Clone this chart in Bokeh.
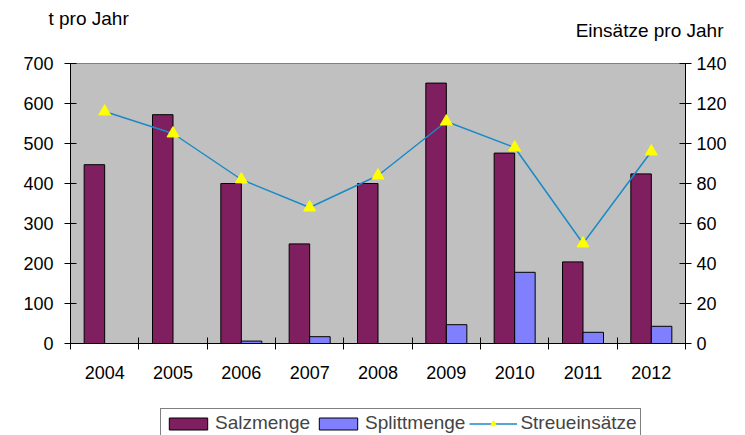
from bokeh.plotting import figure
from bokeh.models import Range1d, LinearAxis, FixedTicker, Legend, LegendItem, Label
from bokeh.layouts import column
from bokeh.embed import file_html
from bokeh.resources import INLINE

years = ["2004", "2005", "2006", "2007", "2008", "2009", "2010", "2011", "2012"]
salzmenge = [447, 572, 400, 249, 400, 651, 476, 204, 424]
splittmenge = [0, 0, 6, 17, 0, 47, 178, 28, 43]
streueinsaetze = [116, 105, 82, 68, 84, 111, 98, 50, 96]
left_ticks = [0, 100, 200, 300, 400, 500, 600, 700]
right_ticks = [0, 20, 40, 60, 80, 100, 120, 140]
series_names = ["Salzmenge", "Splittmenge", "Streueinsätze"]
left_title = "t pro Jahr"
right_title = "Einsätze pro Jahr"

FONT = "Liberation Sans"
FS = "18px"
TFS = "19px"
LFS = "19px"
bar_w = 0.3
C_SALZ = "#7F1F5F"
C_SPLITT = "#8080FF"
C_LINE = "#1A8AC6"
C_TRI = "#FFFF00"

xc = [i + 0.5 for i in range(len(years))]
x_salz = [v - bar_w / 2 for v in xc]
x_splitt = [v + bar_w / 2 for v in xc]

# ---- top strip with the two axis titles ----
TOP_H = 45
LEG_H = 35
pt = figure(width=745, height=TOP_H, output_backend="svg", toolbar_location=None, title=None,
            x_range=Range1d(0, 745), y_range=Range1d(TOP_H, 0),
            x_axis_type=None, y_axis_type=None, frame_align=False,
            min_border=0, min_border_left=0, min_border_right=0, min_border_top=0,
            min_border_bottom=0)
pt.outline_line_color = None
pt.xgrid.visible = False
pt.ygrid.visible = False
pt.add_layout(Label(x=48, y=18, text=left_title, text_font=FONT, text_font_size=TFS,
                    text_align="left", text_baseline="alphabetic", text_color="black"))
pt.add_layout(Label(x=723, y=30, text=right_title, text_font=FONT, text_font_size=TFS,
                    text_align="right", text_baseline="alphabetic", text_color="black"))

# ---- main chart ----
MAIN_H = 435 - TOP_H - LEG_H
p = figure(width=745, height=MAIN_H, output_backend="svg", toolbar_location=None, title=None,
           x_range=Range1d(0, len(years)), y_range=Range1d(left_ticks[0], left_ticks[-1]),
           min_border_left=70, min_border_right=60, min_border_top=63 - TOP_H,
           min_border_bottom=MAIN_H - (343 - TOP_H))
p.extra_y_ranges = {"right": Range1d(right_ticks[0], right_ticks[-1])}

p.background_fill_color = "#C0C0C0"
p.border_fill_color = "white"
p.outline_line_color = "#808080"
p.xgrid.visible = False
p.ygrid.visible = False

p.vbar(x=x_salz, top=salzmenge, bottom=0, width=bar_w,
       fill_color=C_SALZ, line_color="black", line_width=1)
p.vbar(x=x_splitt, top=splittmenge, bottom=0, width=bar_w,
       fill_color=C_SPLITT, line_color="black", line_width=1)
p.line(xc, streueinsaetze, y_range_name="right", line_color=C_LINE, line_width=1.5)
p.scatter(xc, streueinsaetze, y_range_name="right", marker="triangle", size=12,
          fill_color=C_TRI, line_color=C_TRI)

xa = p.xaxis[0]
xa.ticker = FixedTicker(ticks=xc, minor_ticks=list(range(len(years) + 1)))
xa.major_label_overrides = {c: y for c, y in zip(xc, years)}
xa.major_tick_in = 0
xa.major_tick_out = 0
xa.minor_tick_in = 6
xa.minor_tick_out = 6
xa.minor_tick_line_color = "black"
xa.axis_line_color = "black"
xa.major_label_standoff = 16

ya = p.yaxis[0]
ya.ticker = FixedTicker(ticks=left_ticks, minor_ticks=[])
ya.major_tick_in = 6
ya.major_tick_out = 6
ya.axis_line_color = "black"
ya.major_tick_line_color = "black"
ya.major_label_standoff = 11

ra = LinearAxis(y_range_name="right", ticker=FixedTicker(ticks=right_ticks, minor_ticks=[]))
ra.major_tick_in = 6
ra.major_tick_out = 6
ra.axis_line_color = "black"
ra.major_tick_line_color = "black"
ra.major_label_standoff = 5
p.add_layout(ra, "right")

for ax in (xa, ya, ra):
    ax.major_label_text_font = FONT
    ax.major_label_text_font_size = FS
    ax.major_label_text_color = "black"

# ---- legend strip below the chart (its glyphs lie far outside that strip's view) ----
pl = figure(width=745, height=LEG_H, output_backend="svg", toolbar_location=None, title=None,
            x_range=Range1d(100, 101), y_range=Range1d(1000, 1001),
            x_axis_type=None, y_axis_type=None,
            min_border=0, min_border_left=0, min_border_right=0, min_border_top=0,
            min_border_bottom=0)
pl.outline_line_color = None
pl.background_fill_color = None
pl.xgrid.visible = False
pl.ygrid.visible = False
l_salz = pl.vbar(x=x_salz, top=salzmenge, bottom=0, width=bar_w,
                 fill_color=C_SALZ, line_color="black", line_width=1)
l_splitt = pl.vbar(x=x_splitt, top=splittmenge, bottom=0, width=bar_w,
                   fill_color=C_SPLITT, line_color="black", line_width=1)
l_line = pl.line(xc, streueinsaetze, line_color=C_LINE, line_width=1.5)
l_tri = pl.scatter(xc, streueinsaetze, marker="triangle", size=12,
                   fill_color=C_TRI, line_color=C_TRI)

legend = Legend(items=[LegendItem(label=series_names[0], renderers=[l_salz]),
                       LegendItem(label=series_names[1], renderers=[l_splitt]),
                       LegendItem(label=series_names[2], renderers=[l_line, l_tri])],
                location=(90, -3), orientation="horizontal",
                border_line_color="black", border_line_width=1,
                background_fill_color="white", background_fill_alpha=1,
                label_text_font=FONT, label_text_font_size=LFS,
                glyph_width=48, glyph_height=15, spacing=4, padding=3, margin=0,
                label_standoff=3)
pl.add_layout(legend, "center")

layout = column(pt, p, pl, spacing=0)
open("out.html", "w").write(file_html(layout, INLINE))
